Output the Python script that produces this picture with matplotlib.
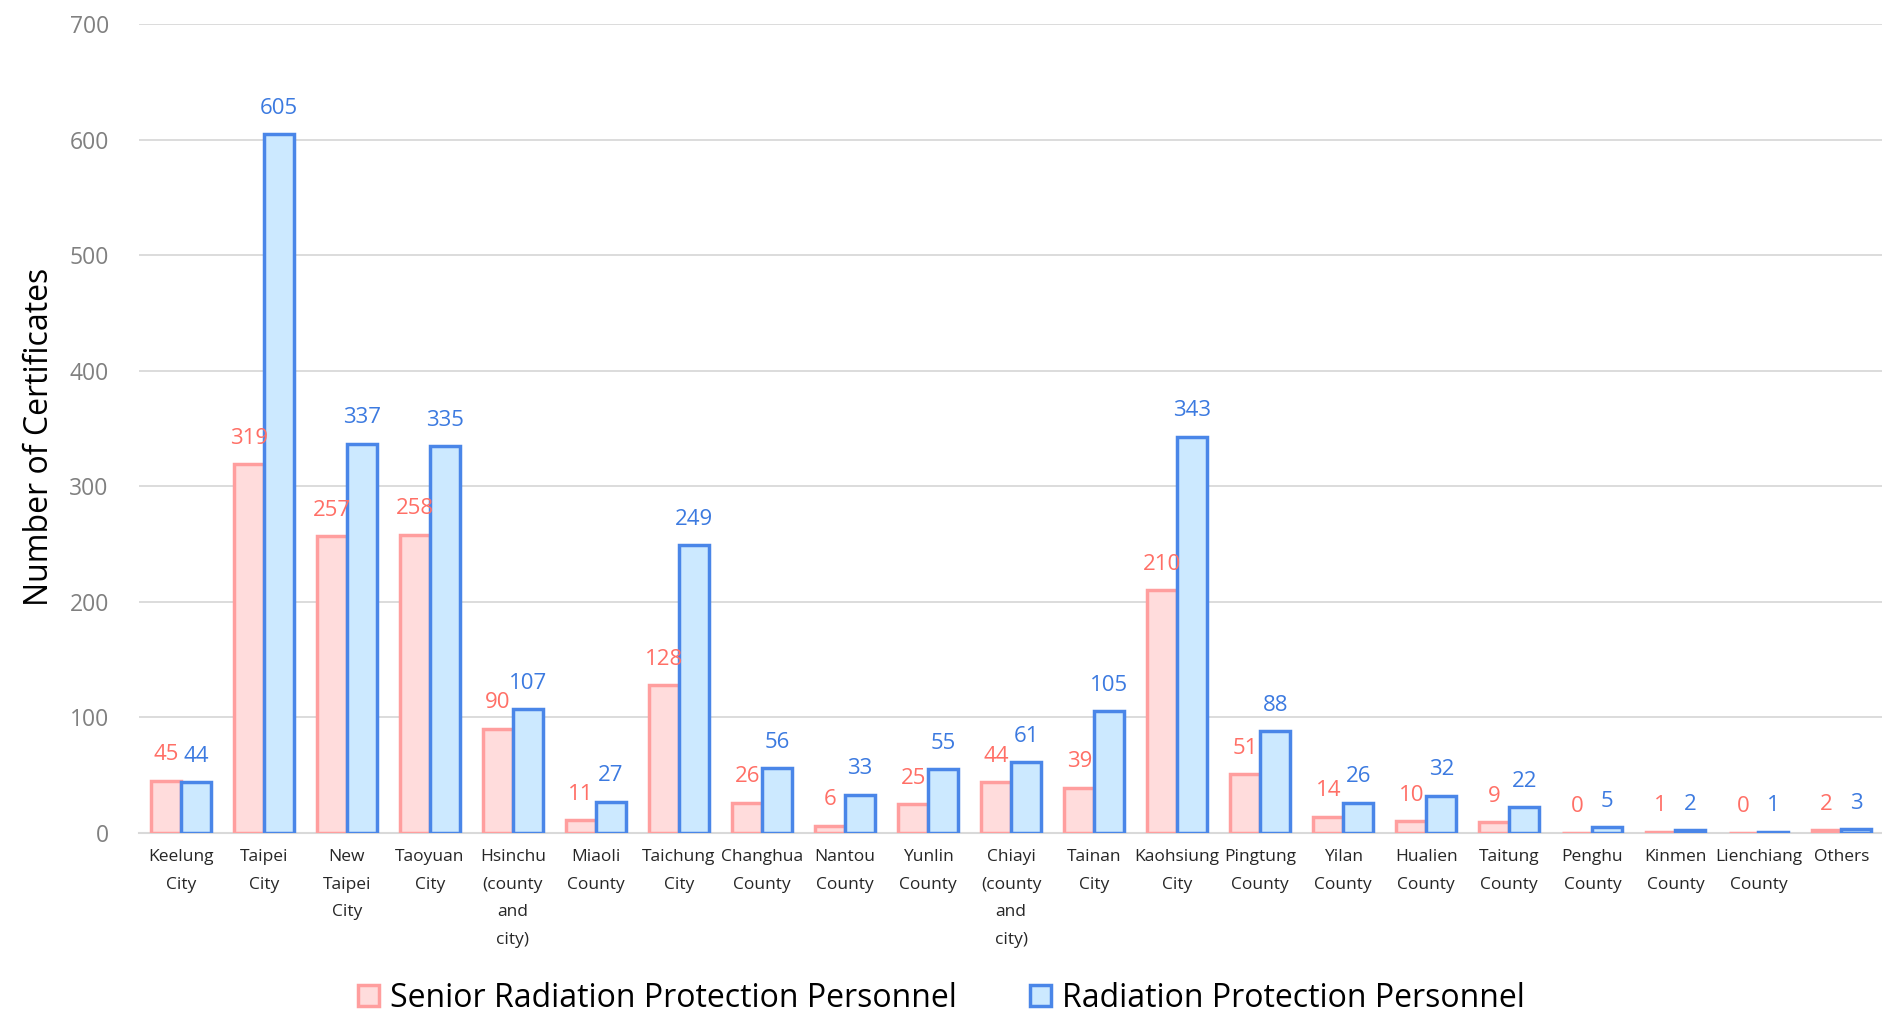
import matplotlib
matplotlib.use("Agg")
import matplotlib.pyplot as plt
from matplotlib.patches import Patch
import numpy as np

plt.rcParams['font.family'] = ['Open Sans', 'DejaVu Sans']

regions = ["Keelung\nCity", "Taipei\nCity", "New\nTaipei\nCity", "Taoyuan\nCity",
           "Hsinchu\n(county\nand\ncity)", "Miaoli\nCounty", "Taichung\nCity",
           "Changhua\nCounty", "Nantou\nCounty", "Yunlin\nCounty",
           "Chiayi\n(county\nand\ncity)", "Tainan\nCity", "Kaohsiung\nCity",
           "Pingtung\nCounty", "Yilan\nCounty", "Hualien\nCounty", "Taitung\nCounty",
           "Penghu\nCounty", "Kinmen\nCounty", "Lienchiang\nCounty", "Others"]
senior = [45, 319, 257, 258, 90, 11, 128, 26, 6, 25, 44, 39, 210, 51, 14, 10, 9, 0, 1, 0, 2]
regular = [44, 605, 337, 335, 107, 27, 249, 56, 33, 55, 61, 105, 343, 88, 26, 32, 22, 5, 2, 1, 3]

series_names = ["Senior Radiation Protection Personnel", "Radiation Protection Personnel"]

pink_fill, pink_edge, pink_text = '#ffdcdc', '#ff9e9e', '#ff6f66'
blue_fill, blue_edge, blue_text = '#cce9ff', '#4a86e8', '#3c7ae0'

fig = plt.figure(figsize=(18.83, 10.13), dpi=100)
ax = fig.add_axes([0.074, 0.178, 0.926, 0.798])

x = np.arange(len(regions))
w = 0.36
b1 = ax.bar(x - w / 2, senior, w, color=pink_fill, edgecolor=pink_edge, linewidth=2.5, zorder=3)
b2 = ax.bar(x + w / 2, regular, w, color=blue_fill, edgecolor=blue_edge, linewidth=2.5, zorder=3)

# value labels above each bar
for rect, v in zip(b1, senior):
    ax.annotate(str(v), (rect.get_x() + rect.get_width() / 2, v), xytext=(0, 11),
                textcoords='offset points', ha='center', va='bottom',
                fontsize=16, color=pink_text)
for rect, v in zip(b2, regular):
    ax.annotate(str(v), (rect.get_x() + rect.get_width() / 2, v), xytext=(0, 11),
                textcoords='offset points', ha='center', va='bottom',
                fontsize=16, color=blue_text)

ax.set_xlim(-0.5, len(regions) - 0.5)
ax.set_ylim(0, 700)
ax.set_yticks(range(0, 701, 100))
ax.yaxis.grid(True, color='#d9d9d9', linewidth=1.3, zorder=0)
ax.set_axisbelow(True)
for s in ['top', 'right', 'left']:
    ax.spines[s].set_visible(False)
ax.spines['bottom'].set_color('#d9d9d9')
ax.spines['bottom'].set_linewidth(1.5)
ax.tick_params(axis='y', length=0, labelsize=16.5, labelcolor='#808080', pad=22)
ax.tick_params(axis='x', length=0, labelsize=12.5, labelcolor='#262626', pad=12)
ax.set_xticks(x)
ax.set_xticklabels(regions, linespacing=1.95, va='top')

ax.set_ylabel("Number of Certificates", fontsize=23, color='#000000', labelpad=16)
ax.yaxis.set_label_coords(-0.048, 0.49)

handles = [Patch(facecolor=pink_fill, edgecolor=pink_edge, linewidth=2.5),
           Patch(facecolor=blue_fill, edgecolor=blue_edge, linewidth=2.5)]
fig.legend(handles, series_names, loc='lower center', bbox_to_anchor=(0.5, -0.03),
           ncol=2, frameon=False, fontsize=23, handlelength=0.65, handleheight=0.65,
           handletextpad=0.35, columnspacing=2.3)

fig.savefig("out.png", dpi=100)
